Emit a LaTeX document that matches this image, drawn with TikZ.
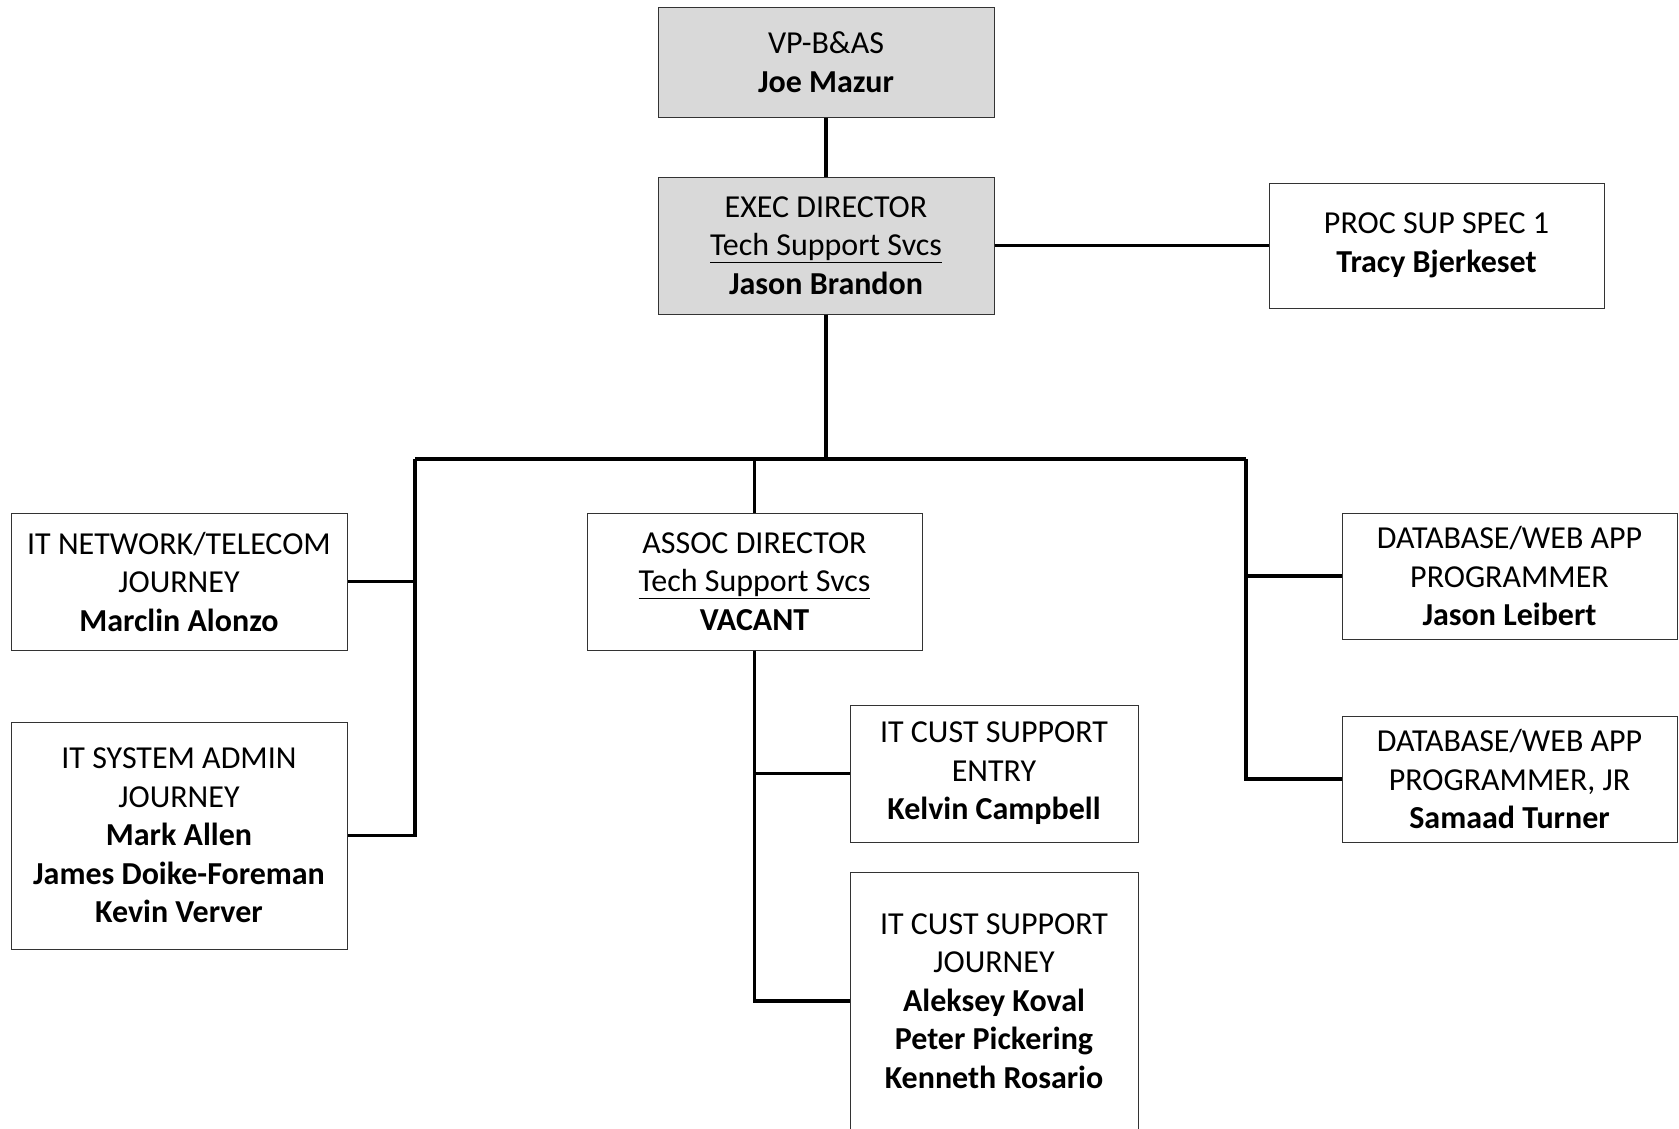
\documentclass[tikz,border=0pt]{standalone}
\usepackage{fontspec}
\setmainfont{Carlito}
\usepackage{tikz}
\newcommand{\nm}[1]{\textbf{#1}}
\tikzset{box/.style={draw=black!80, line width=1pt, fill=white, align=center, inner sep=0pt,
    font=\fontsize{32}{38.5}\selectfont},
  gbox/.style={box, fill=black!15},
  conn/.style={line width=3.4pt}}

\begin{document}
\begin{tikzpicture}[x=1pt,y=-1pt]
\useasboundingbox (0,0) rectangle (1679,1128);
\node[gbox, minimum width=336pt, minimum height=110pt] (vp) at (826,62) {VP-B\&AS\\ \nm{Joe Mazur}};
\node[gbox, minimum width=336pt, minimum height=137pt] (exec) at (826,245.5) {EXEC DIRECTOR\\ \underline{Tech Support Svcs}\\ \nm{Jason Brandon}};
\node[box, minimum width=335pt, minimum height=125pt] (proc) at (1436.5,245.5) {PROC SUP SPEC 1\\ \nm{Tracy Bjerkeset}};
\node[box, minimum width=336pt, minimum height=137pt] (net) at (179,581.5) {IT NETWORK/TELECOM\\ JOURNEY\\ \nm{Marclin Alonzo}};
\node[box, minimum width=336pt, minimum height=227pt] (sys) at (179,835.5) {IT SYSTEM ADMIN\\ JOURNEY\\ \nm{Mark Allen}\\ \nm{James Doike-Foreman}\\ \nm{Kevin Verver}};
\node[box, minimum width=335pt, minimum height=137pt] (assoc) at (754.5,581.5) {ASSOC DIRECTOR\\ \underline{Tech Support Svcs}\\ \nm{VACANT}};
\node[box, minimum width=288pt, minimum height=137pt] (entry) at (994,773.5) {IT CUST SUPPORT\\ ENTRY\\ \nm{Kelvin Campbell}};
\node[box, minimum width=288pt, minimum height=258pt] (journey) at (994,1001) {IT CUST SUPPORT\\ JOURNEY\\ \nm{Aleksey Koval}\\ \nm{Peter Pickering}\\ \nm{Kenneth Rosario}};
\node[box, minimum width=335pt, minimum height=126pt] (db1) at (1509.5,576) {DATABASE/WEB APP\\ PROGRAMMER\\ \nm{Jason Leibert}};
\node[box, minimum width=335pt, minimum height=126pt] (db2) at (1509.5,779) {DATABASE/WEB APP\\ PROGRAMMER, JR\\ \nm{Samaad Turner}};

\coordinate (busL) at (415,459);
\coordinate (busR) at (1246,459);

\draw[conn] (vp) -- (exec);
\draw[line width=2.6pt] (exec.east) -- (proc.west);
\draw[conn] (exec.south) -- (exec.south |- busL);
\draw[conn] (busL) -- (busR);
\draw[conn] (busL) |- (sys.east);
\draw[conn] (busL |- net.east) -- (net.east);
\draw[conn] (assoc.north) -- (assoc.north |- busL);
\draw[conn] (busR) |- (db2.west);
\draw[conn] (busR |- db1.west) -- (db1.west);
\draw[conn] (assoc.south) |- (journey.west);
\draw[conn] (assoc.south |- entry.west) -- (entry.west);
\end{tikzpicture}
\end{document}
